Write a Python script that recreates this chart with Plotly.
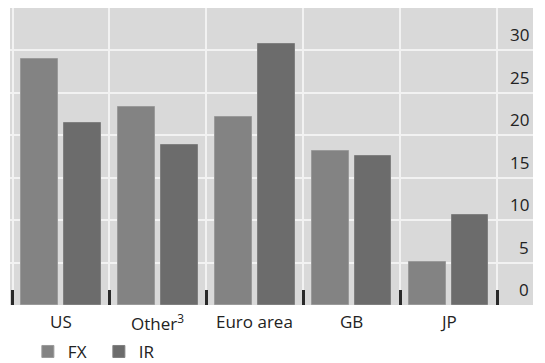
import plotly.graph_objects as go

categories = ["US", "Other<sup>3</sup>", "Euro area", "GB", "JP"]
fx_values = [29.0, 23.3, 22.2, 18.1, 5.1]
ir_values = [21.4, 18.9, 30.7, 17.6, 10.6]
y_ticks = [0, 5, 10, 15, 20, 25, 30]

xpos = list(range(len(categories)))
boundaries = [i - 0.5 for i in range(len(categories) + 1)]

fig = go.Figure()
fig.add_trace(go.Bar(x=xpos, y=fx_values, name="FX",
                     marker=dict(color="#838383", line=dict(color="#9a9a9a", width=1)),
                     offset=-0.41, width=0.38))
fig.add_trace(go.Bar(x=xpos, y=ir_values, name="IR",
                     marker=dict(color="#6c6c6c", line=dict(color="#808080", width=1)),
                     offset=0.03, width=0.38))

for i, c in enumerate(categories):
    fig.add_annotation(x=i, y=0, xref="x", yref="paper", text=c, showarrow=False,
                       yanchor="top", yshift=-3,
                       font=dict(family="Open Sans", size=17, color="#222222"))

for v in y_ticks:
    fig.add_annotation(x=1, y=v, xref="paper", yref="y", text=str(v), showarrow=False,
                       xanchor="right", yanchor="bottom", xshift=-2, yshift=2,
                       font=dict(family="Open Sans", size=17, color="#222222"))

# page body adds an 8px margin, so the figure is sized to fit the 545x363 window
fig.update_layout(
    width=537, height=355,
    margin=dict(l=2, r=12, t=0, b=58, autoexpand=False),
    paper_bgcolor="white", plot_bgcolor="#d9d9d9",
    bargap=0, showlegend=True,
    font=dict(family="Open Sans", size=17, color="#222222"),
    legend=dict(orientation="h", xref="container", yref="paper",
                x=0.037, xanchor="left", y=-0.158, yanchor="middle",
                font=dict(size=17), itemwidth=30, entrywidth=26,
                traceorder="normal", bgcolor="rgba(0,0,0,0)"),
    xaxis=dict(range=[-0.526, 4.87], tickvals=boundaries, showticklabels=False,
               showgrid=True, gridcolor="#f2f2f2", gridwidth=1.5,
               ticks="inside", ticklen=15, tickwidth=3, tickcolor="#2a2a2a",
               zeroline=False, showline=False, fixedrange=True),
    yaxis=dict(range=[0, 35], side="right", tickvals=y_ticks, showticklabels=False,
               showgrid=True, gridcolor="#f2f2f2", gridwidth=1.5,
               zeroline=False, showline=False, ticks=""),
)

fig.write_html("out.html")
